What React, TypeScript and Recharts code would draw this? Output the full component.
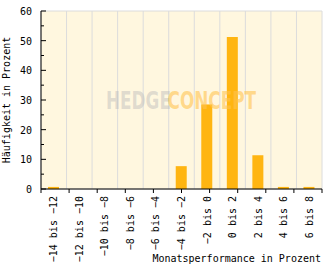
import { BarChart, Bar, XAxis, YAxis, CartesianGrid } from "recharts";

const categories = [
  "−14 bis −12",
  "−12 bis −10",
  "−10 bis −8",
  "−8 bis −6",
  "−6 bis −4",
  "−4 bis −2",
  "−2 bis 0",
  "0 bis 2",
  "2 bis 4",
  "4 bis 6",
  "6 bis 8",
];
const shares = [0.7, 0, 0, 0, 0, 7.7, 28.5, 51.2, 11.4, 0.7, 0.7];
const yTicks = [0, 5, 10, 15, 20, 25, 30, 35, 40, 45, 50, 55, 60];
const yLabelTicks = [0, 10, 20, 30, 40, 50, 60];
const edgeTicks = [0, 1, 2, 3, 4, 5, 6, 7, 8, 9, 10, 11];

const data = categories.map((name, i) => ({ name, share: shares[i] }));

const FONT = "'DejaVu Sans Mono', monospace";
const MARK_FONT = "'DejaVu Sans Condensed', 'DejaVu Sans', sans-serif";

const YTick = ({ x, y, payload }: any) => {
  const major = yLabelTicks.includes(payload.value);
  return (
    <g>
      <line x1={x} x2={x + (major ? 5 : 3)} y1={y} y2={y} stroke="#000" />
      {major && (
        <text x={x - 9} y={y + 4} textAnchor="end" fontSize={10} fontFamily={FONT} fill="#000">
          {payload.value}
        </text>
      )}
    </g>
  );
};

const XTick = ({ x, y, payload }: any) => (
  <text
    x={0}
    y={0}
    transform={`translate(${x + 3.5},${y}) rotate(-90)`}
    textAnchor="end"
    fontSize={10}
    fontFamily={FONT}
    fill="#000"
  >
    {payload.value}
  </text>
);

// boundary tick marks hanging below the axis line
const EdgeTick = ({ x, y }: any) => (
  <line x1={x} x2={x} y1={y} y2={y + 4} stroke="#000" />
);

export default function App() {
  return (
    <div style={{ position: "absolute", left: 0, top: 0, width: 332, height: 269, background: "#fff" }}>
      <BarChart width={332} height={269} data={data} margin={{ top: 11, right: 10, left: 0, bottom: 0 }}>
        <CartesianGrid
          xAxisId="a_edge"
          yAxisId="major"
          stroke="#dcdcdc"
          fill="#FFF7DF"
          verticalCoordinatesGenerator={({ offset }: any) =>
            edgeTicks.map((i) => offset.left + (i * offset.width) / categories.length)
          }
        />
        <XAxis
          xAxisId="a_edge"
          type="number"
          domain={[0, 11]}
          ticks={edgeTicks}
          interval={0}
          allowDataOverflow
          height={4}
          tickSize={0}
          tickMargin={0}
          tickLine={false}
          tick={<EdgeTick />}
          axisLine={{ stroke: "#000" }}
        />
        <XAxis
          xAxisId="b_cat"
          dataKey="name"
          height={76}
          interval={0}
          tickLine={false}
          axisLine={false}
          tickSize={0}
          tickMargin={3}
          tick={<XTick />}
          label={{
            content: ({ viewBox }: any) => (
              <text
                x={viewBox.x + viewBox.width - 1}
                y={viewBox.y + viewBox.height - 7}
                textAnchor="end"
                fontSize={10}
                fontFamily={FONT}
                fill="#000"
              >
                Monatsperformance in Prozent
              </text>
            ),
          }}
        />
        <YAxis yAxisId="major" hide domain={[0, 60]} ticks={yLabelTicks} />
        <YAxis
          yAxisId="main"
          width={41}
          domain={[0, 60]}
          ticks={yTicks}
          interval={0}
          tickLine={false}
          tickSize={0}
          tickMargin={0}
          axisLine={{ stroke: "#000" }}
          tick={<YTick />}
          label={{
            content: ({ viewBox }: any) => (
              <text
                x={0}
                y={0}
                transform={`translate(10,${viewBox.y + viewBox.height / 2}) rotate(-90)`}
                textAnchor="middle"
                fontSize={10}
                fontFamily={FONT}
                fill="#000"
              >
                Häufigkeit in Prozent
              </text>
            ),
          }}
        />
        <Bar
          xAxisId="b_cat"
          yAxisId="main"
          dataKey="share"
          fill="#FFB511"
          barSize={11}
          isAnimationActive={false}
        />
      </BarChart>
      {/* watermark drawn over the plot */}
      <svg
        width={332}
        height={269}
        style={{ position: "absolute", left: 0, top: 0, pointerEvents: "none" }}
      >
        <text
          x={0}
          y={0}
          transform="translate(106,109) scale(0.78,1)"
          fontSize={24}
          fontWeight="bold"
          fontFamily={MARK_FONT}
          fill="rgba(185,185,185,0.45)"
        >
          HEDGE
        </text>
        <text
          x={0}
          y={0}
          transform="translate(256,109) scale(0.78,1)"
          textAnchor="end"
          fontSize={24}
          fontWeight="bold"
          fontFamily={MARK_FONT}
          fill="rgba(255,196,80,0.6)"
        >
          CONCEPT
        </text>
      </svg>
    </div>
  );
}
